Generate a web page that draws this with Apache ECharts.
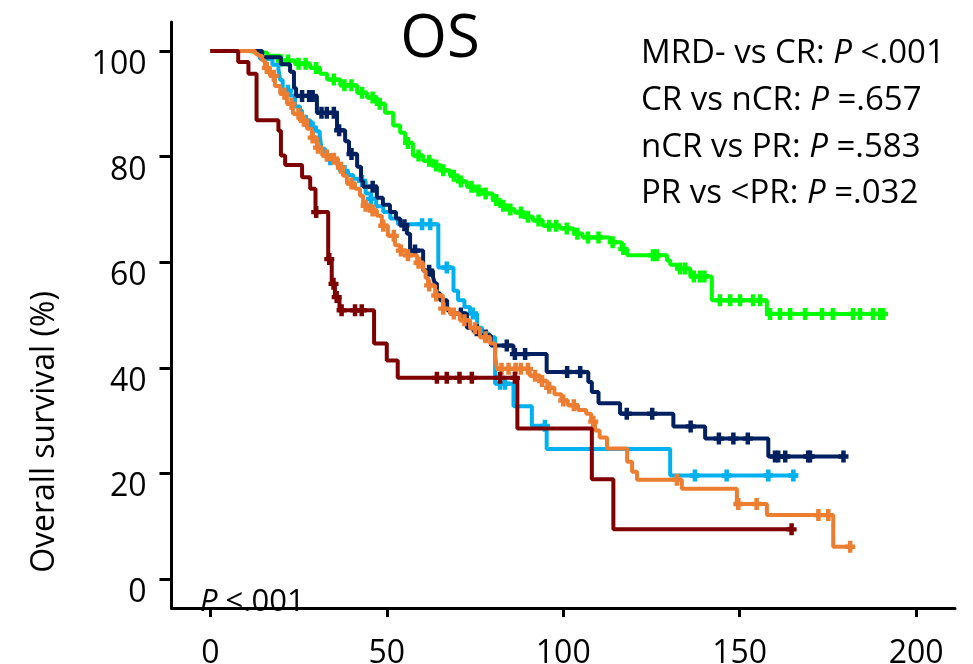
<!DOCTYPE html>
<html>
<head>
<meta charset="utf-8">
<script src="https://cdn.jsdelivr.net/npm/echarts@6/dist/echarts.min.js"></script>
<style>
html,body{margin:0;padding:0;background:#fff;}
#chart{width:973px;height:664px;}
</style>
</head>
<body>
<div id="chart"></div>
<script>
// ---- Data (months, overall survival %) ----
const xTicks = [0, 50, 100, 150, 200];
const yTicks = [0, 20, 40, 60, 80, 100];

const groupNames = ['MRD-', 'CR', 'nCR', 'PR', '<PR'];

// MRD- (green)
const mrdTimes = [0,10.4,16.1,19.8,24.0,28.3,31.1,33.1,36.8,41.6,44.4,47.2,49.5,51.8,53.8,55.2,57.4,60.3,63.1,65.5,67.9,70.3,72.7,75.0,77.3,80.0,82.1,84.2,86.3,89.0,91.4,94.2,99.1,103.0,105.5,113.3,116.6,118.1,129.4,130.3,132.2,136.0,142.1,157.7,190.6];
const mrdSurv  = [100,99.7,99.1,98.2,97.6,96.8,95.7,94.6,93.5,92.1,91.2,90.0,88.3,85.9,84.5,82.6,80.2,79.2,78.3,77.4,76.4,75.3,74.3,73.6,73.0,71.8,70.7,70.0,69.4,68.6,67.9,66.9,66.4,65.4,64.7,63.8,62.5,61.3,60.3,59.5,58.8,57.3,52.8,50.2,50.2];
const mrdCensor = [20,22,25,27,30,35,38,40,43,46,48,56,59,62,64,66,69,71,74,76,78,81,83,85,88,90,93,96,98,101,104,107,110,114,117,125.4,126.5,133.1,134.5,137,138.8,140,144.4,147.3,150.1,153.8,155.8,158.6,161.4,164.3,168.5,173.3,176.4,182.1,184.1,187.8,189.8,190.6];

// CR (navy)
const crTimes = [0,14.7,20.0,22.6,23.7,24.3,30.2,35.9,38.2,39.3,41.6,42.7,43.3,47.2,48.9,50.9,52.6,53.8,55.7,56.6,60.3,63.1,63.6,64.2,65.1,67.1,67.9,72.7,74.5,76.4,79.5,85.9,95.3,107.1,108.1,110.0,116.1,131.2,140.2,158.1,179.4];
const crSurv  = [100,98.8,97.5,96.1,93.0,91.5,88.3,85.0,82.9,80.5,78.1,75.4,74.3,72.2,70.9,69.5,68.3,67.0,65.4,62.2,58.4,57.2,56.0,54.1,52.8,50.9,50.3,47.6,47.1,46.1,44.2,42.6,39.2,37.3,35.4,33.3,31.3,28.9,26.6,23.2,23.2];
const crCensor = [26,28,29,31.5,33,35,36.5,40,46,55,58,62,71,75.5,78,84.0,86.3,89.2,101.1,104.8,118.0,125.2,136.1,144.1,148.2,152.3,160.0,160.9,162.9,169.4,169.9,179.4];

// nCR (light blue)
const ncrTimes = [0,14.1,17.6,19.3,19.8,20.5,22.5,24.0,25.4,26.0,27.0,28.5,30.0,31.0,31.5,32.5,33.5,36.0,36.7,39.0,40.5,42.4,44.0,45.5,47.0,49.0,51.0,53.2,64.6,68.9,70.2,72.0,73.6,75.6,77.0,78.9,80.7,85.9,91.1,95.3,130.3,166.5];
const ncrSurv  = [100,98.5,97.4,96.5,94.5,92.5,91.6,89.5,88.7,87.5,86.8,85.5,84.8,84.0,81.5,80.2,79.5,78.3,77.3,76.5,75.8,75.4,73.0,72.0,70.6,69.5,68.3,67.2,59.0,54.6,52.8,51.5,50.3,47.6,46.5,45.8,37.0,32.7,29.0,24.6,19.6,19.6];
const ncrCensor = [22,27,29,34,38,43,45.5,60.0,62.3,67.0,74.4,82.1,83.5,94.8,137.3,146.3,158.1,165.2];

// PR (orange)
const prTimes = [0,12.7,13.5,14.7,15.5,16.9,18.3,19.8,21.7,23.4,25.4,27.4,28.8,30.2,31.7,33.9,36.2,37.6,38.7,41.0,42.4,43.3,45.3,47.2,48.6,50.3,52.3,53.7,55.7,58.6,60.3,61.0,61.7,63.7,65.9,67.9,70.7,73.6,76.4,79.3,80.7,81.2,90.5,93.5,95.5,97.5,99.5,101.3,104.2,106.5,107.9,109.0,110.3,112.4,118.1,119.5,120.9,133.6,149.2,157.7,176.5,181.3];
const prSurv  = [100,99.5,99.1,98.2,96.8,95.3,93.4,91.9,90.0,88.1,86.8,85.3,83.6,81.7,80.2,79.6,77.9,76.4,74.9,73.9,72.6,70.7,69.8,68.8,66.9,65.0,63.2,62.2,61.3,59.9,58.4,57.0,55.6,53.7,51.2,50.3,49.0,47.5,45.8,44.6,42.3,39.8,38.5,37.5,36.2,35.0,33.8,32.9,32.0,31.3,29.8,28.1,26.8,24.7,22.2,20.3,18.8,17.1,14.2,12.1,6.1,6.1];
const prCensor = [16,18,21,23,25,26.5,29,30.5,33,35,37,40,44,46,49,52,54,56,59,62,64,66,69,72,75,78,82.5,84.5,86.5,88,90,92,94,96,100,103,108.5,132.2,149.6,154.8,172.3,175.1,181.3];

// <PR (dark red)
const lprTimes = [0,7.9,10.8,13.1,19.3,20.0,21.2,26.0,28.3,29.8,33.4,34.4,35.3,36.6,46.4,50.0,53.1,87.0,108.1,114.2,164.7];
const lprSurv  = [100,97.9,95.7,86.9,84.9,80.2,78.4,76.1,73.9,69.5,60.6,55.9,53.4,50.9,44.6,41.4,38.1,28.5,18.9,9.4,9.4];
const lprCensor = [30.0,33.7,34.9,35.8,37.2,41.0,42.9,64.2,67.0,70.6,74.1,82.1,86.3,164.7];

const colors = ['#00FF00', '#002060', '#00B0F0', '#ED7D31', '#7F0000'];

const annotations = [
  ['MRD- vs CR: ', 'P', ' <.001'],
  ['CR vs nCR: ', 'P', ' =.657'],
  ['nCR vs PR: ', 'P', ' =.583'],
  ['PR vs <PR: ', 'P', ' =.032']
];
const overallP = ['P', ' <.001'];
const titleText = 'OS';
const yName = 'Overall survival (%)';

// ---- Build ----
const FONT = "'Open Sans', 'Liberation Sans', sans-serif";
const groups = [
  {times: mrdTimes, surv: mrdSurv, cens: mrdCensor},
  {times: crTimes, surv: crSurv, cens: crCensor},
  {times: ncrTimes, surv: ncrSurv, cens: ncrCensor},
  {times: prTimes, surv: prSurv, cens: prCensor},
  {times: lprTimes, surv: lprSurv, cens: lprCensor}
];
function survAt(g, t) {
  let s = g.surv[0];
  for (let i = 0; i < g.times.length; i++) {
    if (g.times[i] <= t) s = g.surv[i]; else break;
  }
  return s;
}
const plusPath = 'path://M-1.8,-5L1.8,-5L1.8,-1.8L4,-1.8L4,1.8L1.8,1.8L1.8,5L-1.8,5L-1.8,1.8L-4,1.8L-4,-1.8L-1.8,-1.8Z';

const drawOrder = [0, 2, 1, 3, 4];
const series = [];
drawOrder.forEach(function (gi, k) {
  const g = groups[gi];
  series.push({
    name: groupNames[gi],
    type: 'line',
    step: 'end',
    showSymbol: false,
    symbol: 'none',
    z: 2 + k,
    data: g.times.map(function (t, i) { return [t, g.surv[i]]; }),
    lineStyle: {color: colors[gi], width: 4},
    itemStyle: {color: colors[gi]},
    silent: true
  });
  series.push({
    name: groupNames[gi] + ' censored',
    type: 'scatter',
    symbol: plusPath,
    symbolSize: [10, 12],
    z: 2 + k,
    data: g.cens.map(function (t) { return [t, survAt(g, t)]; }),
    itemStyle: {color: colors[gi], opacity: 1},
    silent: true
  });
});

const graphics = [];
graphics.push({
  type: 'text', x: 440, y: 40,
  style: {text: titleText, font: "60px " + FONT, fill: '#000', textAlign: 'center', textVerticalAlign: 'middle'}
});
const annY = [54, 100.7, 147.3, 194];
annotations.forEach(function (a, i) {
  graphics.push({
    type: 'text', x: 641, y: annY[i],
    style: {
      text: '{n|' + a[0] + '}{i|' + a[1] + '}{n|' + a[2] + '}',
      textVerticalAlign: 'middle', textAlign: 'left',
      rich: {
        n: {font: "33px " + FONT, fill: '#000'},
        i: {font: "italic 33px " + FONT, fill: '#000'}
      }
    }
  });
});
graphics.push({
  type: 'text', x: 200, y: 602, z: -1,
  style: {
    text: '{i|' + overallP[0] + '}{n|' + overallP[1] + '}',
    textVerticalAlign: 'middle', textAlign: 'left',
    rich: {
      n: {font: "31px " + FONT, fill: '#000'},
      i: {font: "italic 31px " + FONT, fill: '#000'}
    }
  }
});
graphics.push({
  type: 'text', x: 45, y: 432, rotation: Math.PI / 2,
  style: {text: yName, font: "32px " + FONT, fill: '#000', textAlign: 'center', textVerticalAlign: 'middle'}
});

const chart = echarts.init(document.getElementById('chart'), null, {renderer: 'canvas'});
chart.setOption({
  animation: false,
  backgroundColor: '#fff',
  grid: {left: 171.5, right: 18, top: 22, bottom: 56, containLabel: false, outerBoundsMode: 'none'},
  xAxis: {
    type: 'value', min: -11, max: 211,
    axisLine: {show: true, onZero: false, lineStyle: {color: '#000', width: 3}},
    axisTick: {show: true, inside: false, length: 9, customValues: xTicks, lineStyle: {color: '#000', width: 3}},
    axisLabel: {show: true, customValues: xTicks, fontSize: 32, fontFamily: FONT, color: '#000', margin: 30},
    splitLine: {show: false}
  },
  yAxis: {
    type: 'value', min: -5.5, max: 105.5,
    axisLine: {show: true, onZero: false, lineStyle: {color: '#000', width: 3}},
    axisTick: {show: true, inside: false, length: 12, customValues: yTicks, lineStyle: {color: '#000', width: 3}},
    axisLabel: {show: true, customValues: yTicks, fontSize: 32, fontFamily: FONT, color: '#000', margin: 25, verticalAlign: 'top', lineHeight: 28},
    splitLine: {show: false}
  },
  graphic: graphics,
  series: series
});
</script>
</body>
</html>
